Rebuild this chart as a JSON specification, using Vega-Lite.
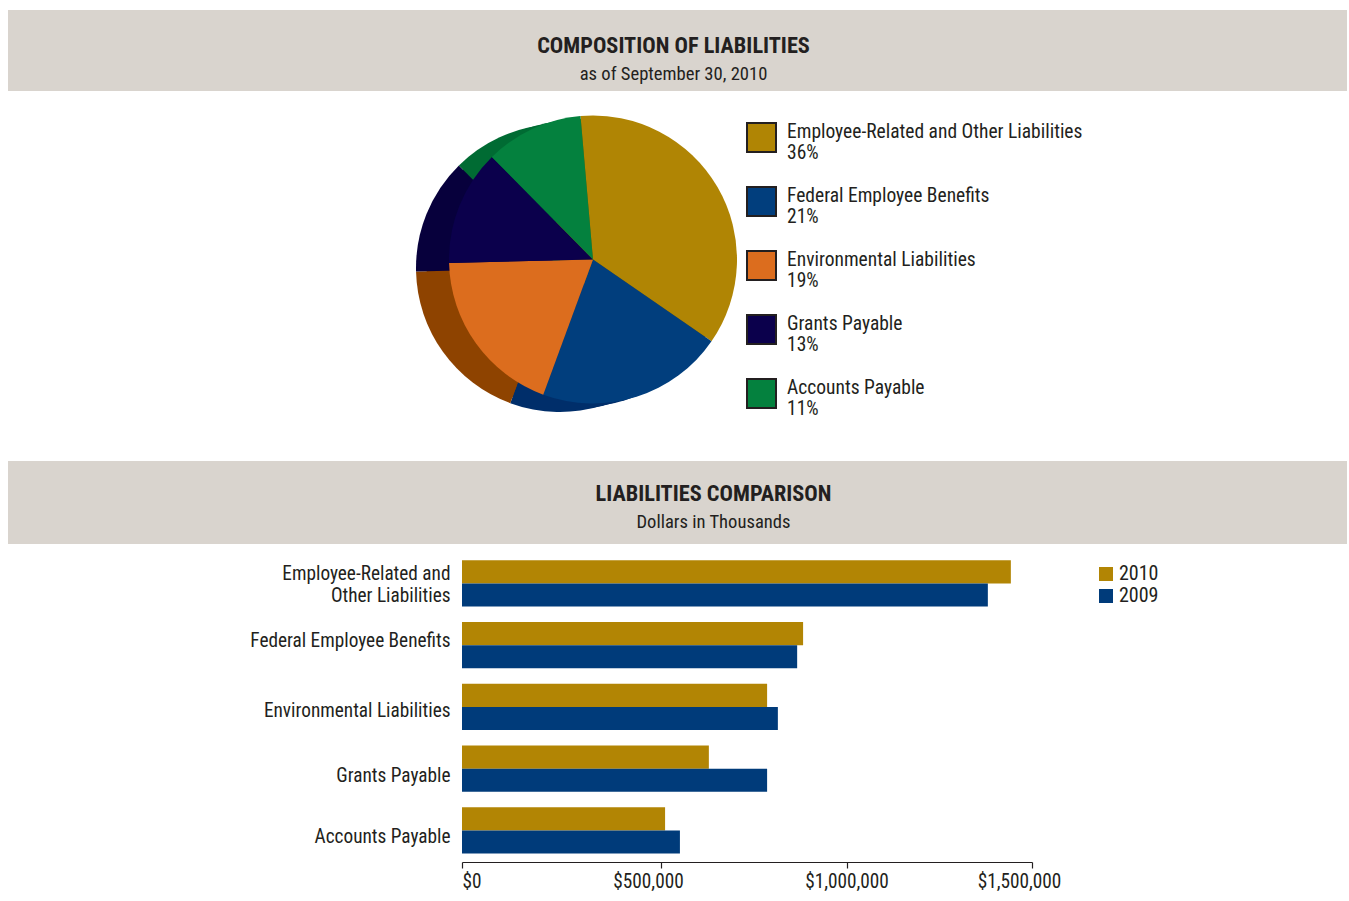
{
  "$schema": "https://vega.github.io/schema/vega-lite/v6.json",
  "padding": {"left": 8, "top": 10, "right": 2, "bottom": 0},
  "background": "white",
  "spacing": 0,
  "config": {
    "view": {"stroke": null},
    "font": "Roboto Condensed, Liberation Sans Narrow, DejaVu Sans Condensed, sans-serif",
    "text": {"font": "Roboto Condensed, Liberation Sans Narrow, DejaVu Sans Condensed, sans-serif", "color": "#231f20"}
  },
  "resolve": {"scale": {"color": "independent", "x": "independent", "y": "independent"}, "legend": {"color": "independent"}},
  "vconcat": [
    {
      "width": 1339,
      "height": 81,
      "view": {"fill": "#d9d4ce", "stroke": null},
      "layer": [
        {
          "data": {"values": [{"t": "COMPOSITION OF LIABILITIES"}]},
          "mark": {"type": "text", "fontSize": 22.3, "fontWeight": "bold", "baseline": "alphabetic", "dx": -4, "dy": 2, "color": "#231f20"},
          "encoding": {"text": {"field": "t", "type": "nominal"}}
        },
        {
          "data": {"values": [{"t": "as of September 30, 2010"}]},
          "mark": {"type": "text", "fontSize": 18.6, "baseline": "alphabetic", "dx": -4, "dy": 29, "color": "#231f20"},
          "encoding": {"text": {"field": "t", "type": "nominal"}}
        }
      ]
    },
    {
      "width": 1339,
      "height": 370,
      "data": {"values": [
        {"name": "Employee-Related and Other Liabilities", "pct": 36, "legend": "Employee-Related and Other Liabilities|36%"},
        {"name": "Federal Employee Benefits", "pct": 21, "legend": "Federal Employee Benefits|21%"},
        {"name": "Environmental Liabilities", "pct": 19, "legend": "Environmental Liabilities|19%"},
        {"name": "Grants Payable", "pct": 13, "legend": "Grants Payable|13%"},
        {"name": "Accounts Payable", "pct": 11, "legend": "Accounts Payable|11%"}
      ]},
      "encoding": {
        "theta": {"field": "pct", "type": "quantitative", "stack": true, "scale": {"range": [-0.087, 6.196]}},
        "order": {"field": "pct", "type": "quantitative", "sort": "descending"}
      },
      "layer": [
        {
          "mark": {"type": "arc", "radius": 144, "xOffset": -96, "yOffset": -13},
          "encoding": {"fill": {"field": "name", "type": "nominal", "scale": {"domain": ["Employee-Related and Other Liabilities", "Federal Employee Benefits", "Environmental Liabilities", "Grants Payable", "Accounts Payable"], "range": ["#7d5e00", "#002e6a", "#8e4300", "#07003c", "#006b33"]}, "legend": null}}
        },
        {
          "mark": {"type": "arc", "radius": 144, "xOffset": -107, "yOffset": -10.5},
          "encoding": {"fill": {"field": "name", "type": "nominal", "scale": {"domain": ["Employee-Related and Other Liabilities", "Federal Employee Benefits", "Environmental Liabilities", "Grants Payable", "Accounts Payable"], "range": ["#7d5e00", "#002e6a", "#8e4300", "#07003c", "#006b33"]}, "legend": null}}
        },
        {
          "mark": {"type": "arc", "radius": 144, "xOffset": -117.5, "yOffset": -8},
          "encoding": {"fill": {"field": "name", "type": "nominal", "scale": {"domain": ["Employee-Related and Other Liabilities", "Federal Employee Benefits", "Environmental Liabilities", "Grants Payable", "Accounts Payable"], "range": ["#7d5e00", "#002e6a", "#8e4300", "#07003c", "#006b33"]}, "legend": null}}
        },
        {
          "mark": {"type": "arc", "radius": 144, "xOffset": -84.5, "yOffset": -16.5},
          "encoding": {
            "color": {
              "field": "legend", "type": "nominal",
              "scale": {"domain": ["Employee-Related and Other Liabilities|36%", "Federal Employee Benefits|21%", "Environmental Liabilities|19%", "Grants Payable|13%", "Accounts Payable|11%"], "range": ["#b08504", "#013e7d", "#dc6d1e", "#0b004c", "#04813e"]},
              "legend": {
                "title": null, "orient": "none", "legendX": 738, "legendY": 31,
                "symbolType": "square", "symbolSize": 841, "symbolStrokeColor": "#231f20", "symbolStrokeWidth": 2, "symbolOpacity": 1,
                "labelFontSize": 19.5, "labelColor": "#231f20", "labelOffset": 10, "labelLimit": 400, "rowPadding": 20,
                "labelBaseline": "alphabetic",
                "labelFont": "Roboto Condensed, Liberation Sans Narrow, DejaVu Sans Condensed, sans-serif",
                "labelExpr": "split(datum.label, '|')"
              }
            }
          }
        }
      ]
    },
    {
      "width": 1339,
      "height": 83,
      "view": {"fill": "#d9d4ce", "stroke": null},
      "layer": [
        {
          "data": {"values": [{"t": "LIABILITIES COMPARISON"}]},
          "mark": {"type": "text", "fontSize": 22.3, "fontWeight": "bold", "baseline": "alphabetic", "dx": 36, "dy": -2, "color": "#231f20"},
          "encoding": {"text": {"field": "t", "type": "nominal"}}
        },
        {
          "data": {"values": [{"t": "Dollars in Thousands"}]},
          "mark": {"type": "text", "fontSize": 18.6, "baseline": "alphabetic", "dx": 36, "dy": 25, "color": "#231f20"},
          "encoding": {"text": {"field": "t", "type": "nominal"}}
        }
      ]
    },
    {
      "width": 1339,
      "height": 318,
      "data": {"values": [
        {"cat": "Employee-Related and Other Liabilities", "year": "2010", "value": 1443000},
        {"cat": "Employee-Related and Other Liabilities", "year": "2009", "value": 1381000},
        {"cat": "Federal Employee Benefits", "year": "2010", "value": 883000},
        {"cat": "Federal Employee Benefits", "year": "2009", "value": 867000},
        {"cat": "Environmental Liabilities", "year": "2010", "value": 786000},
        {"cat": "Environmental Liabilities", "year": "2009", "value": 815000},
        {"cat": "Grants Payable", "year": "2010", "value": 629000},
        {"cat": "Grants Payable", "year": "2009", "value": 786000},
        {"cat": "Accounts Payable", "year": "2010", "value": 511000},
        {"cat": "Accounts Payable", "year": "2009", "value": 551000}
      ]},
      "mark": {"type": "bar"},
      "encoding": {
        "y": {
          "field": "cat", "type": "nominal",
          "sort": ["Employee-Related and Other Liabilities", "Federal Employee Benefits", "Environmental Liabilities", "Grants Payable", "Accounts Payable"],
          "scale": {"paddingInner": 0.25, "paddingOuter": 0.2, "align": 0.66},
          "axis": {
            "title": null, "offset": -442, "domain": false, "ticks": false, "tickSize": 0, "labelPadding": 0,
            "labelFontSize": 19.3, "labelColor": "#231f20", "labelLimit": 400, "labelLineHeight": 22,
            "labelFont": "Roboto Condensed, Liberation Sans Narrow, DejaVu Sans Condensed, sans-serif",
            "labelOffset": {"condition": [
              {"test": "datum.value == 'Employee-Related and Other Liabilities'", "value": -9},
              {"test": "datum.value == 'Federal Employee Benefits'", "value": -4},
              {"test": "datum.value == 'Environmental Liabilities'", "value": 4}
            ], "value": 7},
            "labelExpr": "datum.label == 'Employee-Related and Other Liabilities' ? ['Employee-Related and', 'Other Liabilities'] : datum.label"
          }
        },
        "yOffset": {"field": "year", "type": "nominal", "sort": ["2010", "2009"], "scale": {"paddingInner": 0, "paddingOuter": 0}},
        "x": {
          "field": "value", "type": "quantitative",
          "scale": {"domain": [0, 500000, 1500000], "range": [454, 653, 1024], "nice": false},
          "axis": {
            "title": null, "values": [0, 500000, 1000000, 1500000], "format": "$,.0f", "grid": false,
            "domainColor": "#231f20", "domainWidth": 1.2, "tickColor": "#231f20", "tickSize": 6, "tickWidth": 1.2,
            "labelFontSize": 19.3, "labelColor": "#231f20", "labelPadding": 4, "labelFlush": false,
            "labelAlign": {"condition": {"test": "datum.value == 0", "value": "left"}, "value": "center"},
            "labelOffset": {"condition": {"test": "datum.value == 0 || datum.value == 1000000", "value": 0}, "value": -13},
            "labelFont": "Roboto Condensed, Liberation Sans Narrow, DejaVu Sans Condensed, sans-serif"
          }
        },
        "color": {
          "field": "year", "type": "nominal",
          "scale": {"domain": ["2010", "2009"], "range": ["#b28504", "#003b7a"]},
          "legend": {
            "title": null, "orient": "none", "legendX": 1088, "legendY": 20,
            "symbolType": "square", "symbolSize": 196, "symbolOpacity": 1, "symbolStrokeWidth": 0,
            "labelFontSize": 20, "labelColor": "#231f20", "labelOffset": 3, "rowPadding": 2,
            "labelFont": "Roboto Condensed, Liberation Sans Narrow, DejaVu Sans Condensed, sans-serif"
          }
        }
      }
    }
  ]
}
